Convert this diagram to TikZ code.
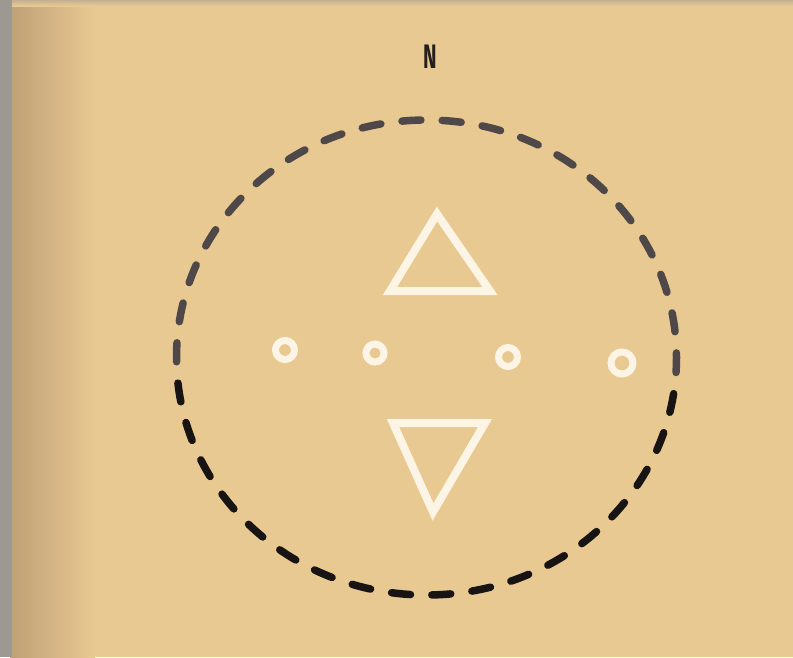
\documentclass[tikz,border=0pt]{standalone}
\usepackage{fontspec}
\newfontfamily\labelfont{Fira Sans}
\definecolor{bg}{RGB}{233,201,146}
\definecolor{shadeL}{RGB}{190,160,118}
\definecolor{edgegray}{RGB}{158,152,146}
\definecolor{dashgray}{RGB}{78,72,72}
\definecolor{dashblack}{RGB}{25,20,20}
\definecolor{chalk}{RGB}{252,244,228}
\tikzset{
  dashring/.style={line width=7.5pt, line cap=round, dash pattern=on 19pt off 21.3pt, dash phase=4pt},
  tri/.style={draw=chalk, line width=8pt, line join=miter},
  ring/.style={draw=chalk, line width=7pt},
  lbl/.style={font=\labelfont\bfseries\fontsize{34}{34}\selectfont, text=dashblack!80!dashgray, xscale=0.6, inner sep=0pt}
}
\begin{document}
\begin{tikzpicture}[x=1pt,y=-1pt]
\useasboundingbox (0,0) rectangle (793,657);
\fill[bg] (0,0) rectangle (793,657);
\shade[left color=shadeL, right color=bg] (10,0) rectangle (95,657);
\fill[edgegray] (0,0) rectangle (12,657);
\shade[top color=edgegray!50!bg, bottom color=bg] (12,0) rectangle (793,6);
% dashed ring
\begin{scope}
\clip (0,0) rectangle (793,380);
\draw[dashring, draw=dashgray] (426.5,357.5) ellipse [x radius=250, y radius=237.5];
\end{scope}
\begin{scope}
\clip (0,380) rectangle (793,657);
\draw[dashring, draw=dashblack] (426.5,357.5) ellipse [x radius=250, y radius=237.5];
\end{scope}
% triangles
\draw[tri] (437,214) -- (490,291) -- (390,291) -- cycle;
\draw[tri] (393,423) -- (485,423) -- (433,512) -- cycle;
% small rings
\draw[ring] (285,350) circle [radius=9.5];
\draw[ring] (375,353) circle [radius=9];
\draw[ring] (508,357) circle [radius=9.5];
\draw[ring] (622,363) circle [radius=11];
% north label
\node[lbl] (north) at (430,57) {N};
\end{tikzpicture}
\end{document}
